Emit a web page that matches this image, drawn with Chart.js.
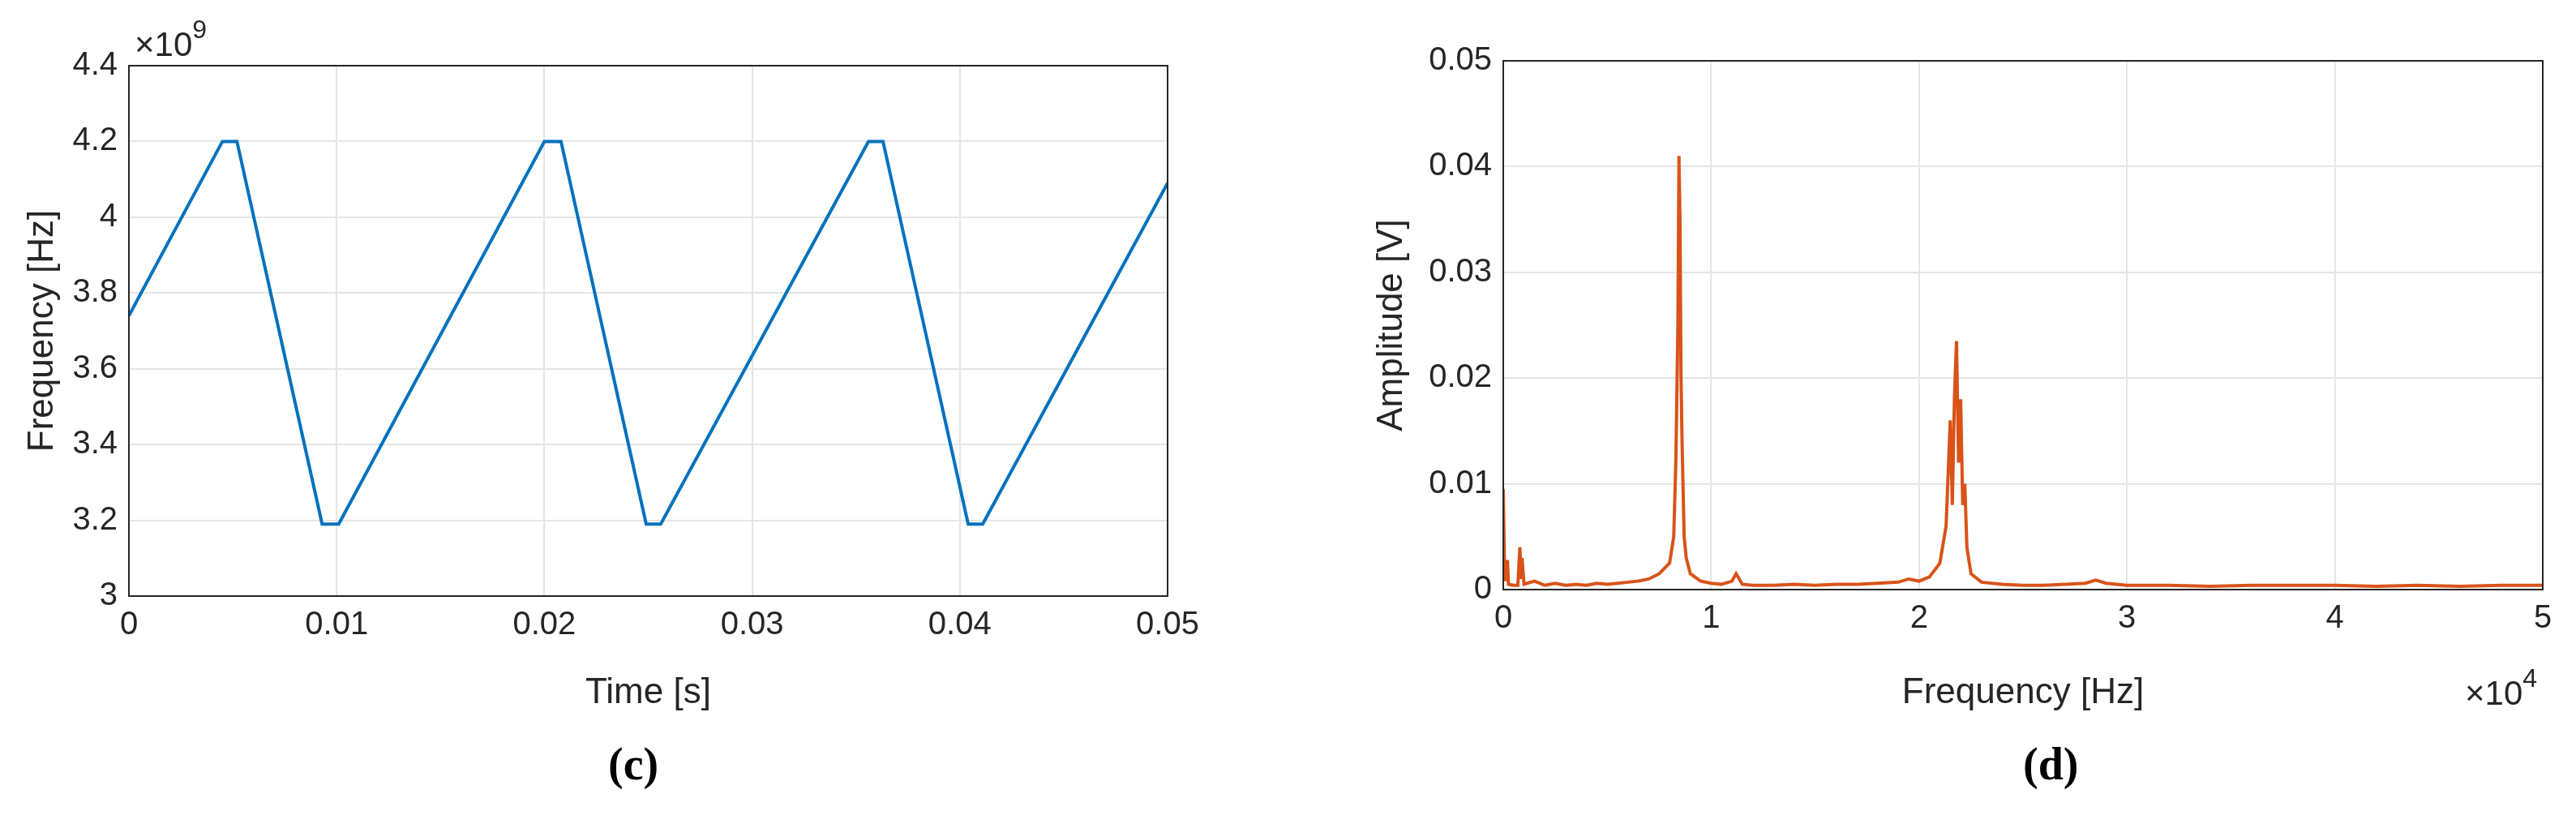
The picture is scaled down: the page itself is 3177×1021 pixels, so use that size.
<!DOCTYPE html>
<html><head><meta charset="utf-8">
<script src="https://cdn.jsdelivr.net/npm/chart.js@4"></script>
<style>
body{margin:0;background:#fff;width:3177px;height:1021px;position:relative;overflow:hidden;font-family:"Liberation Sans",Arial,sans-serif;color:#262626}
.w{position:absolute}
.t{position:absolute;font-size:42px;white-space:nowrap}
.t sup{font-size:32px;vertical-align:22px}
.lab{position:absolute;font-family:"Liberation Serif",serif;font-weight:bold;font-size:56px;color:#000}
</style></head><body>
<div class="w" style="left:0;top:0;width:1500px;height:900px"><canvas id="c1"></canvas></div>
<div class="w" style="left:1650px;top:0;width:1527px;height:900px"><canvas id="c2"></canvas></div>
<div class="t" style="left:166px;top:18px">×10<sup>9</sup></div>
<div class="t" style="left:3040px;top:818px">×10<sup>4</sup></div>
<div class="lab" style="left:750px;top:910px">(c)</div>
<div class="lab" style="left:2495px;top:910px">(d)</div>
<script>
const timeS=[0,0.0045,0.0052,0.0093,0.0101,0.0200,0.0208,0.0249,0.0256,0.0356,0.0363,0.0404,0.0411,0.05];
const freqE9=[3.74,4.20,4.20,3.19,3.19,4.20,4.20,3.19,3.19,4.20,4.20,3.19,3.19,4.09];
const specF=[0,0.005,0.01,0.02,0.025,0.05,0.07,0.08,0.085,0.09,0.1,0.15,0.2,0.25,0.3,0.35,0.4,0.45,0.5,0.55,0.6,0.65,0.7,0.75,0.8,0.82,0.83,0.84,0.845,0.85,0.855,0.86,0.87,0.88,0.9,0.95,1.0,1.05,1.1,1.12,1.15,1.2,1.3,1.4,1.5,1.6,1.7,1.8,1.9,1.95,2.0,2.05,2.1,2.13,2.15,2.16,2.17,2.18,2.19,2.2,2.21,2.22,2.23,2.25,2.3,2.4,2.5,2.6,2.7,2.8,2.85,2.9,3.0,3.2,3.4,3.6,3.8,4.0,4.2,4.4,4.6,4.8,5.0];
const specA=[0.0095,0.003,0.0008,0.0028,0.0005,0.0004,0.0004,0.004,0.001,0.003,0.0005,0.0008,0.0004,0.0006,0.0004,0.0005,0.0004,0.0006,0.0005,0.0006,0.0007,0.0008,0.001,0.0015,0.0025,0.005,0.012,0.025,0.041,0.035,0.02,0.014,0.005,0.003,0.0015,0.0008,0.0006,0.0005,0.0008,0.0015,0.0005,0.0004,0.0004,0.0005,0.0004,0.0005,0.0005,0.0006,0.0007,0.001,0.0008,0.0012,0.0025,0.006,0.016,0.008,0.018,0.0235,0.012,0.018,0.008,0.01,0.004,0.0015,0.0007,0.0005,0.0004,0.0004,0.0005,0.0006,0.0009,0.0006,0.0004,0.0004,0.0003,0.0004,0.0004,0.0004,0.0003,0.0004,0.0003,0.0004,0.0004];
const tickFont={family:"Liberation Sans",size:40};
function mk(id,xs,ys,color,xr,yr,xt,yt,yw,xh,pad){
  new Chart(document.getElementById(id),{type:'line',
    data:{datasets:[{data:xs.map((x,i)=>({x:x,y:ys[i]})),borderColor:color,borderWidth:4,pointRadius:0,tension:0}]},
    options:{responsive:true,maintainAspectRatio:false,animation:false,
      layout:{padding:pad},
      plugins:{legend:{display:false},tooltip:{enabled:false}},
      scales:{
        x:{type:'linear',min:xr[0],max:xr[1],afterFit:s=>{s.height=xh},
          ticks:{stepSize:xr[2],color:'#262626',font:tickFont,padding:12,maxRotation:0,callback:v=>+v.toFixed(3)},
          grid:{color:'#e5e5e5',lineWidth:2,tickLength:0},border:{color:'#262626',width:2},
          title:{display:true,text:xt,color:'#262626',font:{family:"Liberation Sans",size:44},padding:{top:4,bottom:0}}},
        y:{type:'linear',min:yr[0],max:yr[1],afterFit:s=>{s.width=yw},
          ticks:{stepSize:yr[2],color:'#262626',font:tickFont,padding:14,callback:v=>+v.toFixed(3)},
          grid:{color:'#e5e5e5',lineWidth:2,tickLength:0},border:{color:'#262626',width:2},
          title:{display:true,text:yt,color:'#262626',font:{family:"Liberation Sans",size:44},padding:{top:0,bottom:0}}}
      }},
    plugins:[{id:'box',afterDraw(c){const a=c.chartArea,g=c.ctx;g.save();g.strokeStyle='#262626';g.lineWidth=2;g.strokeRect(a.left,a.top,a.right-a.left,a.bottom-a.top);g.restore();}}]
  });
}
mk('c1',timeS,freqE9,'#0072BD',[0,0.05,0.01],[3,4.4,0.2],'Time [s]','Frequency [Hz]',133,146,{top:81,right:60,left:26,bottom:19});
mk('c2',specF,specA,'#D95319',[0,5,1],[0,0.05,0.01],'Frequency [Hz]','Amplitude [V]',164,154,{top:75,right:41,left:40,bottom:19});
</script></body></html>
